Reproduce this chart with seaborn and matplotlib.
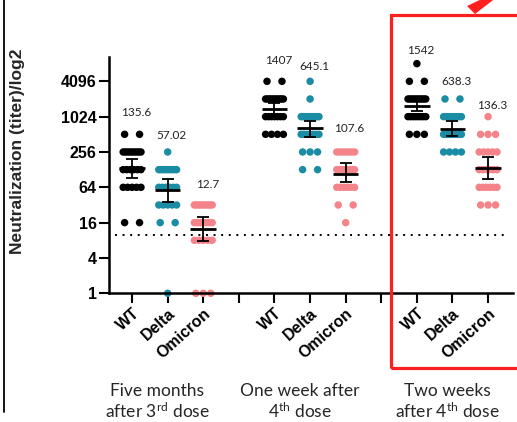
import numpy as np
import pandas as pd
import matplotlib
matplotlib.use("Agg")
import matplotlib.pyplot as plt
from matplotlib.lines import Line2D
from matplotlib.patches import Rectangle, Polygon
import seaborn as sns

# ---- data -------------------------------------------------------------
variants = ["WT", "Delta", "Omicron"]
timepoint_lines = [
    ("Five months", "after 3$^{\\mathrm{rd}}$ dose"),
    ("One week after", "4$^{\\mathrm{th}}$ dose"),
    ("Two weeks", "after 4$^{\\mathrm{th}}$ dose"),
]

# individual neutralization titers, per timepoint and variant
m5_wt = [512] * 2 + [256] * 9 + [128] * 6 + [64] * 5 + [16] * 2
m5_delta = [256] * 1 + [128] * 9 + [64] * 6 + [32] * 5 + [16] * 2 + [1] * 1
m5_omicron = [32] * 9 + [16] * 7 + [8] * 5 + [1] * 3
w1_wt = [4096] * 2 + [2048] * 11 + [1024] * 7 + [512] * 4
w1_delta = [4096] * 1 + [2048] * 1 + [1024] * 10 + [512] * 7 + [256] * 3 + [128] * 2
w1_omicron = [256] * 7 + [128] * 8 + [64] * 6 + [32] * 2 + [16] * 1
w2_wt = [8192] * 1 + [4096] * 2 + [2048] * 10 + [1024] * 8 + [512] * 3
w2_delta = [2048] * 2 + [1024] * 8 + [512] * 10 + [256] * 4
w2_omicron = [1024] * 1 + [512] * 3 + [256] * 5 + [128] * 6 + [64] * 6 + [32] * 3

# geometric mean titers with 95% confidence limits
gmt = [135.6, 57.02, 12.7, 1407, 645.1, 107.6, 1542, 638.3, 136.3]
ci_low = [91, 36.5, 7.9, 1100, 455, 79, 1278, 478, 87]
ci_high = [194, 90, 20.2, 1780, 861, 163, 1885, 850, 208]

detection_limit = 10
ytick_values = [1, 4, 16, 64, 256, 1024, 4096]

# ---- style ------------------------------------------------------------
sns.set_style("ticks")
plt.rcParams["font.family"] = ["Liberation Sans", "DejaVu Sans"]
plt.rcParams["mathtext.fontset"] = "custom"
plt.rcParams["mathtext.rm"] = "Lato"
plt.rcParams["mathtext.it"] = "Lato:italic"
plt.rcParams["mathtext.bf"] = "Lato:bold"

palette = {"WT": "#000000", "Delta": "#1A8CA3", "Omicron": "#F4848A"}
label_pad_px = [22, 16, 20, 21, 15, 23, 13, 17, 11]

W, H = 517, 422


def px(x, y):
    return (x / W, 1 - y / H)


fig = plt.figure(figsize=(W / 100, H / 100), dpi=100)
fig.patch.set_facecolor("white")
ax = fig.add_axes([109.3 / W, 1 - 293.3 / H, (513 - 109.3) / W, (293.3 - 57.3) / H])

# ---- scatter of individual titers (centred rows, like a column dot plot)
groups = [m5_wt, m5_delta, m5_omicron,
          w1_wt, w1_delta, w1_omicron,
          w2_wt, w2_delta, w2_omicron]
centers = []
rows = []
for gi, titers in enumerate(groups):
    t, v = divmod(gi, 3)
    xc = t * 4 + v
    centers.append(xc)
    vals, counts = np.unique(titers, return_counts=True)
    for val, n in zip(vals, counts):
        if n == 1:
            offs = [0.0]
        else:
            h = 0.21 if n <= 3 else 0.25
            offs = np.linspace(-h, h, n)
        for o in offs:
            rows.append({"x": xc + o, "log2titer": np.log2(val),
                         "variant": variants[v]})
df = pd.DataFrame(rows)

sns.scatterplot(data=df, x="x", y="log2titer", hue="variant", palette=palette,
                s=29, linewidth=0, legend=False, ax=ax, zorder=2)
for coll in ax.collections:
    coll.set_clip_on(False)

# ---- geometric means and confidence intervals ---------------------------
centers = np.array(centers, dtype=float)
lg = np.log2(gmt)
ax.errorbar(centers, lg,
            yerr=[lg - np.log2(ci_low), np.log2(ci_high) - lg],
            fmt="none", ecolor="black", elinewidth=1.3, capsize=4.5,
            capthick=1.3, zorder=4)
ax.hlines(lg, centers - 0.36, centers + 0.36, colors="black",
          linewidth=2.0, zorder=4)

# value labels above each column
for gi, titers in enumerate(groups):
    ax.annotate(f"{gmt[gi]:g}", xy=(centers[gi], np.log2(max(titers))),
                xytext=(4 * 0.72, label_pad_px[gi] * 0.72),
                textcoords="offset points", ha="center", va="center",
                fontsize=8.5, family="Lato", color="#222222")

# limit of detection
ax.plot([-0.48, 10.48], [np.log2(detection_limit)] * 2, color="black",
        linestyle=(0, (1, 2.9)), linewidth=1.4, zorder=1)

# ---- axes ---------------------------------------------------------------
ax.set_xlim(-0.64, 10.7)
ax.set_ylim(0, 13.36)
ax.set_yticks(np.log2(ytick_values))
ax.set_yticklabels([str(v) for v in ytick_values], fontweight="bold",
                   fontsize=11.5)
xlabels = []
for t in range(3):
    xlabels += variants + ([""] if t < 2 else [])
ax.set_xticks(range(len(xlabels)))
ax.set_xticklabels(xlabels, rotation=42, ha="right", va="top",
                   rotation_mode="anchor", fontweight="bold", fontsize=11.5)
ax.set_xlabel("")
ax.set_ylabel("")
sns.despine(ax=ax)
for s in ("left", "bottom"):
    ax.spines[s].set_linewidth(1.8)
    ax.spines[s].set_color("black")
ax.tick_params(axis="both", length=7, width=1.5, color="black",
               labelcolor="black", pad=2)
ax.patch.set_alpha(0)

fig.text(*px(18, 151), "Neutralization (titer)/log2", rotation=90,
         ha="center", va="center", fontsize=12.5, fontweight="bold")

# timepoint captions
for (l1, l2), cx in zip(timepoint_lines, [157, 300, 447]):
    fig.text(*px(cx, 396.5), l1, ha="center", va="baseline",
             fontsize=12.5, family="Lato")
    fig.text(*px(cx, 418.5), l2, ha="center", va="baseline",
             fontsize=12.5, family="Lato")

# highlight box and arrow
fig.patches.append(Rectangle(px(391, 368), (560 - 391) / W, (368 - 15) / H,
                             transform=fig.transFigure, fill=False,
                             edgecolor="#FF1F1F", linewidth=2.3))
fig.patches.append(Polygon([px(467, 6), px(475, 14), px(497, -3), px(486, -3)],
                           closed=True, transform=fig.transFigure,
                           facecolor="#FF1F1F", edgecolor="none"))
fig.lines.append(Line2D([3.5 / W, 3.5 / W], [1 - 412 / H, 1],
                        transform=fig.transFigure, color="black",
                        linewidth=1.3))

fig.savefig("out.png", dpi=100)
